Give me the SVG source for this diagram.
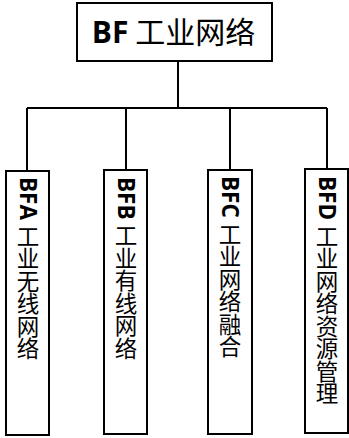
<svg xmlns="http://www.w3.org/2000/svg" width="349" height="438" viewBox="0 0 349 438">
<style>
.box{fill:#fff;stroke:#000;stroke-width:2}
.ln{fill:none;stroke:#000;stroke-width:2}
.t{font-family:"Noto Sans CJK SC","Noto Sans",sans-serif;font-size:24px;fill:#000}
.b{font-family:"Open Sans","Liberation Sans",sans-serif;font-weight:bold}
.v{writing-mode:vertical-rl;font-size:22.5px}
</style>
<g id="connectors">
<path class="ln" d="M178,61 V108 M27,108 H327 M27,108 V171 M126,108 V170 M230,108 V170 M327,108 V169"/>
</g>
<g id="root">
<rect class="box" x="77" y="3" width="195" height="58"/>
<text class="t" x="173.5" y="43" text-anchor="middle" style="font-size:30px"><tspan class="b">BF</tspan> 工业网络</text>
</g>
<g id="bfa">
<rect class="box" x="6" y="171" width="43" height="264"/>
<text class="t v" x="28" y="177"><tspan class="b">BFA</tspan> 工业无线网络</text>
</g>
<g id="bfb">
<rect class="box" x="104" y="170" width="43" height="264"/>
<text class="t v" x="126" y="177"><tspan class="b">BFB</tspan> 工业有线网络</text>
</g>
<g id="bfc">
<rect class="box" x="208" y="170" width="44" height="264"/>
<text class="t v" x="230" y="176"><tspan class="b">BFC</tspan> 工业网络融合</text>
</g>
<g id="bfd">
<rect class="box" x="305" y="169" width="43" height="264"/>
<text class="t v" x="327" y="176"><tspan class="b">BFD</tspan> 工业网络资源管理</text>
</g>
</svg>
